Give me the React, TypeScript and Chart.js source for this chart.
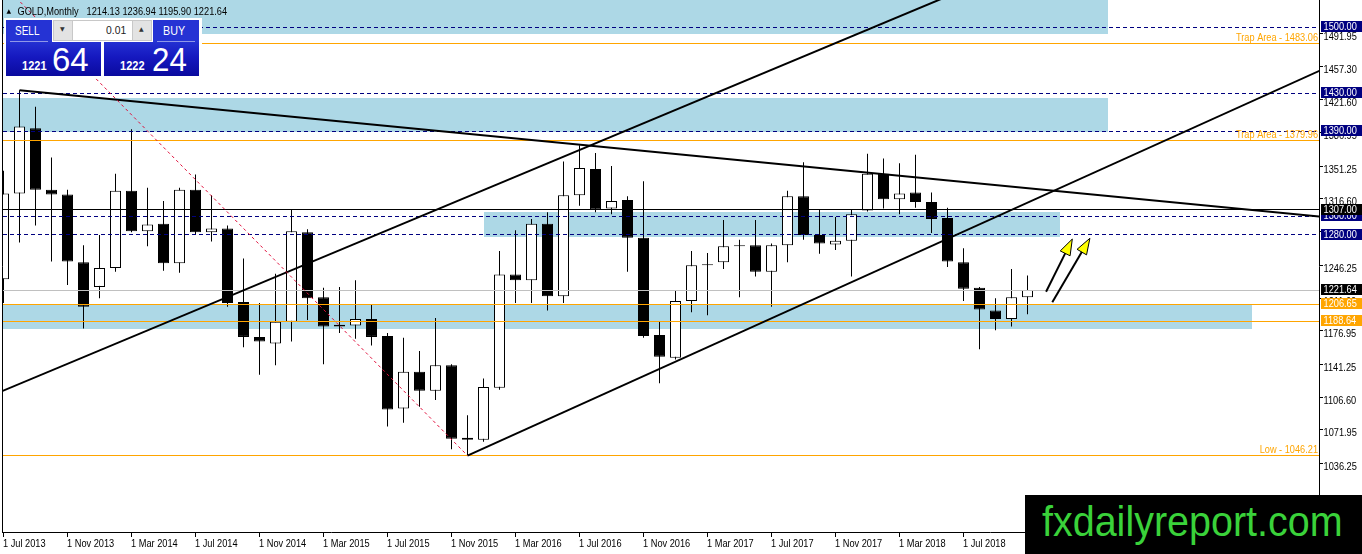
import React, { useEffect, useRef } from "react";
import { Chart, registerables } from "chart.js";

Chart.register(...registerables);

// ---- monthly candles, Jul 2013 .. Nov 2018 (index 0..64)
const opens = [1233, 1324, 1393, 1328, 1323, 1251, 1225, 1245, 1327, 1284, 1292, 1250, 1328, 1283, 1287, 1209, 1172, 1165, 1188, 1283, 1214, 1185, 1184, 1191, 1173, 1096, 1135, 1115, 1142, 1065, 1063, 1118, 1238, 1232, 1292, 1215, 1322, 1350, 1308, 1317, 1277, 1174, 1150, 1210, 1249, 1251, 1269, 1269, 1241, 1269, 1321, 1280, 1270, 1274, 1306, 1345, 1318, 1325, 1315, 1298, 1251, 1224, 1200, 1191, 1214.13];
const highs = [1348, 1433.5, 1416, 1362, 1328, 1269, 1280, 1345, 1392, 1330, 1316, 1330, 1344, 1322, 1290, 1255, 1208, 1239, 1307, 1286, 1224, 1225, 1232, 1206, 1176, 1171, 1157, 1192, 1143, 1089, 1128, 1263, 1285, 1297, 1304, 1358, 1375, 1367, 1353, 1321, 1337, 1188, 1221, 1263, 1261, 1296, 1275, 1296, 1271, 1327, 1357, 1307, 1299, 1307, 1366, 1361, 1356, 1365, 1325, 1309, 1266, 1225, 1213, 1244, 1236.94];
const lows = [1208, 1272, 1290, 1252, 1227, 1181, 1213, 1241, 1283, 1268, 1242, 1240, 1280, 1273, 1204, 1161, 1132, 1142, 1167, 1190, 1143, 1176, 1170, 1163, 1077, 1081, 1098, 1105, 1053, 1046.21, 1061, 1116, 1208, 1208, 1200, 1208, 1311, 1304, 1302, 1241, 1171, 1123, 1148, 1198, 1195, 1244, 1214, 1236, 1204, 1251, 1275, 1260, 1264, 1236, 1305, 1308, 1302, 1309, 1282, 1246, 1210, 1159, 1179, 1183, 1195.9];
const closes = [1324, 1395, 1328, 1323, 1252, 1204, 1245, 1327, 1284, 1291, 1250, 1328, 1283, 1287, 1208, 1172, 1167, 1188, 1284, 1213, 1183, 1183, 1191, 1172, 1095, 1135, 1115, 1142, 1064, 1063, 1119, 1238, 1232, 1292, 1215, 1322, 1351, 1307, 1316, 1277, 1173, 1151, 1210, 1248, 1248, 1268, 1268, 1241, 1269, 1321, 1280, 1271, 1274, 1302, 1345, 1318, 1324, 1315, 1297, 1252, 1223, 1201, 1191, 1214, 1221.64];

// ---- axes
const xTickIndex = [0, 4, 8, 12, 16, 20, 24, 28, 32, 36, 40, 44, 48, 52, 56, 60];
const xTickLabels = ["1 Jul 2013", "1 Nov 2013", "1 Mar 2014", "1 Jul 2014", "1 Nov 2014", "1 Mar 2015", "1 Jul 2015", "1 Nov 2015", "1 Mar 2016", "1 Jul 2016", "1 Nov 2016", "1 Mar 2017", "1 Jul 2017", "1 Nov 2017", "1 Mar 2018", "1 Jul 2018"];
const yTickValues = [1491.95, 1457.3, 1421.6, 1386.95, 1351.25, 1316.6, 1281.95, 1246.25, 1211.6, 1176.95, 1141.25, 1106.6, 1071.95, 1036.25, 1001.6];
const yMin = 965.23;
const yMax = 1529.04;

// ---- horizontal levels
const dashedLevels = [1500, 1430, 1390, 1300, 1280];
const orangeLevels = [1483.06, 1379.96, 1206.65, 1188.64, 1046.21];
const blackLevels = [1307];
const bidLevels = [1221.64];

// ---- rectangles (bar index range, price range)
const zoneFrom = [-1, -1, 30, -1];
const zoneTo = [69, 69, 66, 78];
const zoneLow = [1492.7, 1389.5, 1278.2, 1180.5];
const zoneHigh = [1560, 1425.5, 1304, 1206];

// ---- trend lines
const trendFromX = [1, -1, 29];
const trendFromP = [1433.5, 1108.1, 1046.21];
const trendToX = [83, 61, 83];
const trendToP = [1298.2, 1547.1, 1459.8];
const redFromX = [0];
const redFromP = [1545];
const redToX = [29];
const redToP = [1046.21];

// ---- arrows
const arrowFromX = [65.16, 65.55];
const arrowFromP = [1219.9, 1208.7];
const arrowToX = [66.8, 67.9];
const arrowToP = [1275.7, 1276.5];

// ---- texts
const levelLabelText = ["Trap Area - 1483.06", "Trap Area - 1379.96", "Low - 1046.21"];
const levelLabelValue = [1483.06, 1379.96, 1046.21];
const tagValues = [1500, 1430, 1390, 1300, 1280, 1307, 1221.64, 1206.65, 1188.64];
const tagKinds = ["navy", "navy", "navy", "navy", "navy", "black", "black", "orange", "orange"];
const headerSymbol = "GOLD,Monthly";
const headerValues = "1214.13 1236.94 1195.90 1221.64";

const FONT = '"Liberation Sans", Arial, sans-serif';
const ORANGE = "#FFA500";
const NAVY = "#000080";
const ZONE = "#ADD8E6";

function txt(ctx: CanvasRenderingContext2D, s: string, x: number, y: number, size: number, color: string, align: CanvasTextAlign = "left", sx = 0.84, weight = "normal") {
  ctx.save();
  ctx.font = `${weight} ${size}px ${FONT}`;
  ctx.fillStyle = color;
  ctx.textAlign = align;
  ctx.textBaseline = "alphabetic";
  ctx.translate(x, y);
  ctx.scale(sx, 1);
  ctx.fillText(s, 0, 0);
  ctx.restore();
}

const mt4Plugin = {
  id: "mt4",
  beforeDatasetsDraw(chart: any) {
    const { ctx, chartArea: a, scales } = chart;
    const X = (v: number) => scales.x.getPixelForValue(v);
    const Y = (v: number) => scales.y.getPixelForValue(v);
    ctx.save();
    ctx.beginPath();
    ctx.rect(a.left, a.top, a.right - a.left, a.bottom - a.top);
    ctx.clip();
    ctx.fillStyle = ZONE;
    for (let i = 0; i < zoneFrom.length; i++) {
      const x1 = Math.round(Math.max(a.left, X(zoneFrom[i])));
      const x2 = Math.round(Math.min(a.right, X(zoneTo[i])));
      const y1 = Math.round(Math.max(a.top, Y(zoneHigh[i])));
      const y2 = Math.round(Math.min(a.bottom, Y(zoneLow[i])));
      ctx.fillRect(x1, y1, x2 - x1, y2 - y1);
    }
    ctx.restore();
  },
  afterDatasetsDraw(chart: any) {
    const { ctx, chartArea: a, scales } = chart;
    const X = (v: number) => scales.x.getPixelForValue(v);
    const Y = (v: number) => scales.y.getPixelForValue(v);
    ctx.save();
    ctx.beginPath();
    ctx.rect(a.left, a.top, a.right - a.left, a.bottom - a.top);
    ctx.clip();

    const hline = (v: number, color: string, dash: number[]) => {
      const yy = Math.floor(Y(v)) + 0.5;
      ctx.beginPath();
      ctx.setLineDash(dash);
      ctx.strokeStyle = color;
      ctx.lineWidth = 1;
      ctx.moveTo(a.left, yy);
      ctx.lineTo(a.right, yy);
      ctx.stroke();
    };
    bidLevels.forEach((v) => hline(v, "#C0C0C0", []));
    dashedLevels.forEach((v) => hline(v, NAVY, [4, 3]));
    orangeLevels.forEach((v) => hline(v, ORANGE, []));
    blackLevels.forEach((v) => hline(v, "#000", []));
    ctx.setLineDash([]);

    // trend lines
    ctx.strokeStyle = "#000";
    ctx.lineWidth = 2;
    for (let i = 0; i < trendFromX.length; i++) {
      ctx.beginPath();
      ctx.moveTo(X(trendFromX[i]), Y(trendFromP[i]));
      ctx.lineTo(X(trendToX[i]), Y(trendToP[i]));
      ctx.stroke();
    }
    // red dashed
    ctx.strokeStyle = "#E0103C";
    ctx.lineWidth = 1;
    ctx.setLineDash([3, 3]);
    for (let i = 0; i < redFromX.length; i++) {
      ctx.beginPath();
      ctx.moveTo(X(redFromX[i]), Y(redFromP[i]));
      ctx.lineTo(X(redToX[i]), Y(redToP[i]));
      ctx.stroke();
    }
    ctx.setLineDash([]);

    // arrows
    for (let i = 0; i < arrowFromX.length; i++) {
      const x1 = X(arrowFromX[i]), y1 = Y(arrowFromP[i]);
      const x2 = X(arrowToX[i]), y2 = Y(arrowToP[i]);
      const ang = Math.atan2(y2 - y1, x2 - x1);
      const c = Math.cos(ang), s = Math.sin(ang);
      const hl = 16, hw = 5.5;
      const bx = x2 - hl * c, by = y2 - hl * s;
      ctx.beginPath();
      ctx.strokeStyle = "#000";
      ctx.lineWidth = 2;
      ctx.moveTo(x1, y1);
      ctx.lineTo(bx + 2 * c, by + 2 * s);
      ctx.stroke();
      ctx.beginPath();
      ctx.moveTo(x2, y2);
      ctx.lineTo(bx - hw * s, by + hw * c);
      ctx.lineTo(bx + hw * s, by - hw * c);
      ctx.closePath();
      ctx.fillStyle = "#FFFF00";
      ctx.fill();
      ctx.lineWidth = 1;
      ctx.stroke();
    }

    // level texts
    for (let i = 0; i < levelLabelText.length; i++) {
      txt(ctx, levelLabelText[i], a.right - 1, Y(levelLabelValue[i]) - 2.5, 10, ORANGE, "right", 0.92);
    }
    ctx.restore();
  },
  afterDraw(chart: any) {
    const { ctx, chartArea: a, scales } = chart;
    const X = (v: number) => scales.x.getPixelForValue(v);
    const Y = (v: number) => scales.y.getPixelForValue(v);
    ctx.save();
    ctx.strokeStyle = "#000";
    ctx.lineWidth = 1;
    ctx.beginPath();
    ctx.moveTo(a.left - 0.5, a.top);
    ctx.lineTo(a.left - 0.5, a.bottom + 0.5);
    ctx.moveTo(a.left - 1, a.bottom + 0.5);
    ctx.lineTo(a.right + 1, a.bottom + 0.5);
    ctx.moveTo(a.right + 0.5, a.top);
    ctx.lineTo(a.right + 0.5, a.bottom + 1);
    ctx.stroke();

    // price axis
    yTickValues.forEach((v) => {
      const yy = Y(v);
      const ty = Math.round(yy) - 1.5;
      ctx.beginPath();
      ctx.moveTo(a.right + 1, ty);
      ctx.lineTo(a.right + 4, ty);
      ctx.stroke();
      txt(ctx, v.toFixed(2), a.right + 4.5, yy + 5, 11, "#000");
    });
    // time axis
    xTickIndex.forEach((idx, k) => {
      const xx = Math.floor(X(idx)) + 0.5;
      ctx.beginPath();
      ctx.moveTo(xx, a.bottom + 1);
      ctx.lineTo(xx, a.bottom + 5);
      ctx.stroke();
      txt(ctx, xTickLabels[k], xx - 0.5, a.bottom + 14.5, 11, "#000");
    });
    // price tags
    tagValues.forEach((v, k) => {
      const yy = Y(v);
      const top = Math.round(yy) - 6;
      const kind = tagKinds[k];
      ctx.fillStyle = kind === "navy" ? NAVY : kind === "orange" ? ORANGE : "#000";
      ctx.fillRect(a.right + 2, top, 41, 11);
      txt(ctx, v.toFixed(2), a.right + 4.5, top + 9, 11, "#fff");
    });
    // header
    ctx.font = `6px "DejaVu Sans", sans-serif`;
    ctx.fillStyle = "#000";
    ctx.textAlign = "left";
    ctx.fillText("▲", 6.5, 13);
    txt(ctx, headerSymbol, 17.5, 14.5, 11, "#000");
    txt(ctx, headerValues, 86.5, 14.5, 11, "#000");
    ctx.restore();
  },
};

const BLUE_TOP = "#2533d4";
const BLUE_GRAD = "linear-gradient(to bottom, #2330d2 0%, #1518bf 45%, #0a0a9e 100%)";

function Panel() {
  const base: React.CSSProperties = { position: "absolute", boxSizing: "border-box" };
  const tx = (s: string, left: number, baseline: number, size: number, sx: number, extra: React.CSSProperties = {}) => (
    <span
      style={{
        position: "absolute",
        left,
        top: baseline - 0.8465 * size,
        fontFamily: FONT,
        fontSize: size,
        lineHeight: `${size}px`,
        color: "#fff",
        whiteSpace: "nowrap",
        transform: `scaleX(${sx})`,
        transformOrigin: "left",
        ...extra,
      }}
    >
      {s}
    </span>
  );
  return (
    <>
      <div style={{ ...base, left: 4, top: 18, width: 198, height: 60, background: "#fff" }} />
      <div style={{ ...base, left: 6, top: 20, width: 46, height: 22, background: BLUE_TOP }} />
      <div style={{ ...base, left: 153, top: 20, width: 46, height: 22, background: BLUE_TOP }} />
      <div style={{ ...base, left: 6, top: 42, width: 95, height: 34, background: BLUE_GRAD }} />
      <div style={{ ...base, left: 104, top: 42, width: 95, height: 34, background: BLUE_GRAD }} />
      <div style={{ ...base, left: 10, top: 41, width: 38, height: 1, background: "#8f97e8" }} />
      <div style={{ ...base, left: 157, top: 41, width: 38, height: 1, background: "#8f97e8" }} />
      <div style={{ ...base, left: 53, top: 20, width: 20, height: 21, background: "#e3e3e3", border: "1px solid #c8c8c8" }} />
      <div style={{ ...base, left: 73, top: 20, width: 59, height: 21, background: "#fff", borderTop: "1px solid #c8c8c8", borderBottom: "1px solid #c8c8c8" }} />
      <div style={{ ...base, left: 132, top: 20, width: 20, height: 21, background: "#e3e3e3", border: "1px solid #c8c8c8" }} />
      {tx("▼", 60, 31, 6, 1, { color: "#333", fontFamily: '"DejaVu Sans", sans-serif' })}
      {tx("▲", 139, 31, 6, 1, { color: "#333", fontFamily: '"DejaVu Sans", sans-serif' })}
      {tx("0.01", 105.5, 34.5, 11.5, 0.9, { color: "#222" })}
      {tx("SELL", 15, 35.5, 12.5, 0.8)}
      {tx("BUY", 163, 35.5, 12.5, 0.86)}
      {tx("1221", 22, 70, 13, 0.85, { fontWeight: "bold" })}
      {tx("64", 52, 70.5, 34, 0.97)}
      {tx("1222", 120, 70, 13, 0.85, { fontWeight: "bold" })}
      {tx("24", 151.5, 70.5, 34, 0.92)}
    </>
  );
}

function Watermark() {
  return (
    <div style={{ position: "absolute", left: 1025, top: 495, width: 337, height: 59, background: "#000" }}>
      <span
        style={{
          position: "absolute",
          left: 16.5,
          top: 5.7,
          fontFamily: FONT,
          fontSize: 42,
          lineHeight: "42px",
          color: "#3ad23a",
          whiteSpace: "nowrap",
          transform: "scaleX(0.94)",
          transformOrigin: "left",
        }}
      >
        fxdailyreport.com
      </span>
    </div>
  );
}

export default function App() {
  const ref = useRef<HTMLCanvasElement | null>(null);
  useEffect(() => {
    if (!ref.current) return;
    const wick = opens.map((_, i) => ({ x: i, y: [lows[i], highs[i]] }));
    const body = opens.map((o, i) => ({ x: i, y: [o, closes[i]] }));
    const bodyColors = opens.map((o, i) => (closes[i] > o ? "#FFFFFF" : "#000000"));
    const chart = new Chart(ref.current, {
      type: "bar",
      data: {
        datasets: [
          { label: "wick", data: wick as any, backgroundColor: "#000", borderWidth: 0, barThickness: 1, grouped: false, order: 2, inflateAmount: 0 } as any,
          { label: "body", data: body as any, backgroundColor: bodyColors, borderColor: "#000", borderWidth: 1, borderSkipped: false, barThickness: 11, grouped: false, order: 1, inflateAmount: 0 } as any,
        ],
      },
      options: {
        animation: false,
        responsive: false,
        maintainAspectRatio: false,
        devicePixelRatio: 1,
        layout: { padding: { left: 3, right: 43, top: 0, bottom: 22 } },
        scales: {
          x: { type: "linear", min: -0.03125, max: -0.03125 + 1316 / 16, display: false, offset: false },
          y: { type: "linear", min: yMin, max: yMax, display: false },
        },
        plugins: { legend: { display: false }, tooltip: { enabled: false } },
        events: [],
      } as any,
      plugins: [mt4Plugin],
    });
    return () => chart.destroy();
  }, []);
  return (
    <div style={{ position: "fixed", left: 0, top: 0, width: 1362, height: 554, background: "#fff", overflow: "hidden" }}>
      <canvas ref={ref} width={1362} height={554} style={{ position: "absolute", left: 0, top: 0, width: 1362, height: 554 }} />
      <Panel />
      <Watermark />
    </div>
  );
}
